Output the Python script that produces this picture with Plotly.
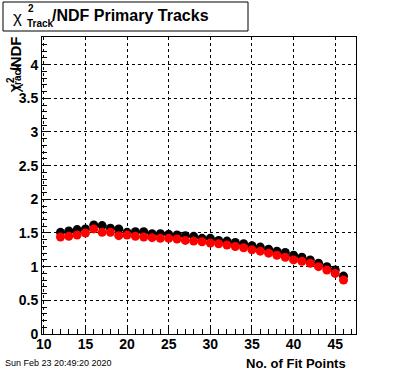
import plotly.graph_objects as go

fit_points = list(range(12, 47))
chi2_black = [1.51, 1.53, 1.55, 1.56, 1.62, 1.61, 1.57, 1.56, 1.51, 1.52,
              1.52, 1.49, 1.49, 1.48, 1.47, 1.46, 1.45, 1.42, 1.42, 1.39,
              1.38, 1.36, 1.34, 1.31, 1.29, 1.26, 1.23, 1.21, 1.17, 1.14,
              1.10, 1.05, 1.00, 0.95, 0.86]
chi2_red = [1.44, 1.45, 1.47, 1.50, 1.56, 1.51, 1.51, 1.46, 1.47, 1.45,
            1.44, 1.43, 1.42, 1.42, 1.41, 1.39, 1.38, 1.37, 1.35, 1.34,
            1.32, 1.30, 1.28, 1.25, 1.23, 1.20, 1.17, 1.14, 1.10, 1.08,
            1.05, 1.00, 0.95, 0.90, 0.80]

W, H = 396, 372
L, R, T, B = 42, 356, 37, 334
FONT = "Liberation Sans, Arial, sans-serif"


def px(x):
    return (x - L) / (R - L)


def py(y):
    return (B - y) / (B - T)


fig = go.Figure()
for vals, col in [(chi2_black, "black"), (chi2_red, "red")]:
    fig.add_trace(go.Scatter(
        x=fit_points, y=vals, mode="markers",
        marker=dict(symbol="circle", size=9, color=col, line=dict(width=0)),
        error_x=dict(type="constant", value=0.5, color=col, thickness=1, width=0),
        showlegend=False, hoverinfo="skip"))

axis_common = dict(
    showline=True, mirror=True, linecolor="black", linewidth=1,
    ticks="inside", tickcolor="black", tickwidth=1,
    showgrid=True, gridcolor="black", griddash="dot", gridwidth=1,
    zeroline=False,
    tickfont=dict(family=FONT, size=14, color="black", weight="bold"),
)
fig.update_xaxes(range=[9.78, 47.5], tick0=10, dtick=5, ticklen=9,
                 ticklabelstandoff=-3,
                 minor=dict(ticks="inside", ticklen=5, dtick=1, tickcolor="black", showgrid=False),
                 **axis_common)
fig.update_yaxes(range=[0, 4.41], tick0=0, dtick=0.5, ticklen=9,
                 minor=dict(ticks="inside", ticklen=5, dtick=0.1, tickcolor="black", showgrid=False),
                 **axis_common)

shapes = [dict(type="rect", xref="paper", yref="paper",
               x0=px(3), x1=px(248), y0=py(31), y1=py(2),
               line=dict(color="black", width=1), fillcolor="white", layer="above")]

ann = []


def add(text, x, y, size, xa="left", ya="middle", bold=True, angle=0, family=FONT):
    ann.append(dict(text=(f"<b>{text}</b>" if bold else text), x=px(x), y=py(y),
                    xref="paper", yref="paper", xanchor=xa, yanchor=ya,
                    showarrow=False, textangle=angle,
                    font=dict(family=family, size=size, color="black")))


# title
add("χ", 11, 18, 17, bold=False)
add("2", 26, 9, 10)
add("Track", 25, 23, 10)
add("/NDF Primary Tracks", 50, 16, 16)

# y axis title (rotated)
add("/NDF", 15, 35, 15, xa="center", ya="top", angle=-90)
add("Track", 17, 62, 10, xa="center", ya="top", angle=-90)
add("2", 10, 75, 10, xa="center", ya="top", angle=-90)
add("χ", 14, 82, 17, xa="center", ya="top", angle=-90, bold=False)

# x axis title
add("No. of Fit Points", 348, 363, 13, xa="right")

# date stamp
add("Sun Feb 23 20:49:20 2020", 3, 363, 9, bold=False)

fig.update_layout(
    width=W, height=H,
    margin=dict(l=L, r=W - R, t=T, b=H - B, pad=0),
    paper_bgcolor="white", plot_bgcolor="white",
    shapes=shapes, annotations=ann,
    font=dict(family=FONT, color="black"),
)

fig.write_html("out.html", config={"displayModeBar": False},
               post_script="document.body.style.margin='0';document.body.style.padding='0';")
